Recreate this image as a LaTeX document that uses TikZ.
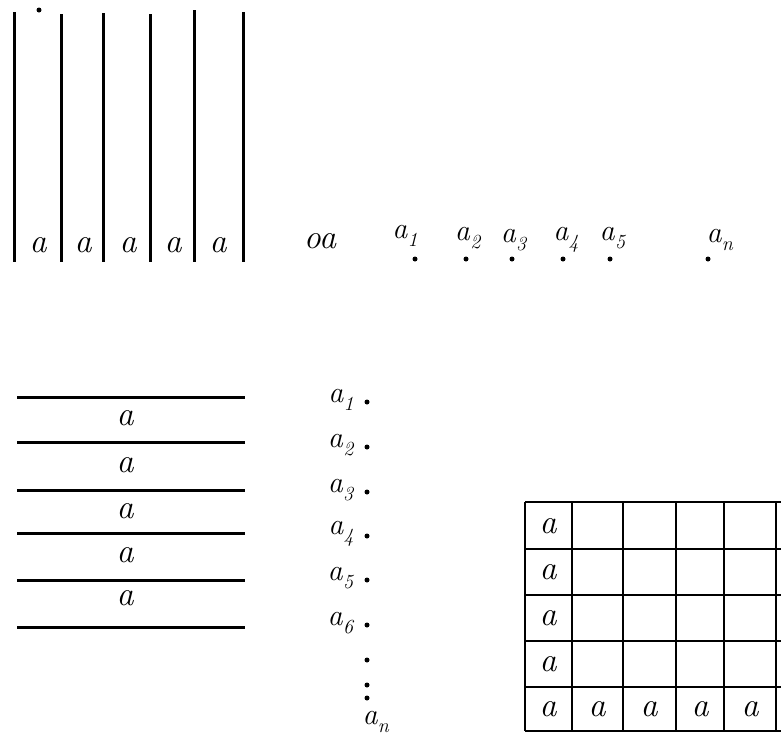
\documentclass[tikz,border=0pt]{standalone}
\newcommand\asub[1]{\textit{a}\raisebox{-0.28em}{\fontsize{20}{22}\selectfont\textit{#1}}}
\begin{document}
\begin{tikzpicture}[x=1pt,y=-1pt,
  ln/.style={line width=3pt},
  gl/.style={line width=2.6pt},
  lbl/.style={inner sep=0pt,font=\fontsize{34}{38}\selectfont\itshape},
  sub/.style={inner sep=0pt,font=\fontsize{30}{34}\selectfont},
  pt/.style={circle,fill=black,inner sep=0pt,minimum size=5pt}]
\useasboundingbox (0,0) rectangle (781,737);
% top vertical strips
\foreach \x/\t [count=\i] in {14/12,61/14,103/13,150/14,194/10,243/12}{
  \coordinate (vt\i) at (\x,\t);
  \coordinate (vb\i) at (\x,262);
  \draw[ln] (vt\i) -- (vb\i);
}
\node[pt] (topdot) at (39,10) {};
\foreach \x [count=\i] in {38,83,128,173,218}{
  \node[lbl] (va\i) at (\x,245) {a};
}
% row of points
\node[lbl] (oa) at (320,241) {oa};
\node[sub] (p1) at (405,236) {\asub{1}};
\node[sub] (p2) at (468,238) {\asub{2}};
\node[sub] (p3) at (514,240) {\asub{3}};
\node[sub] (p4) at (566,240) {\asub{4}};
\node[sub] (p5) at (613,238) {\asub{5}};
\node[sub] (pn) at (720,240) {\asub{n}};
\foreach \x/\n in {415/1,466/2,512/3,563/4,610/5,708/n}{
  \node[pt] (d\n) at (\x,259) {};
}
% horizontal strips
\foreach \y [count=\i] in {397,442,490,533,580,627}{
  \coordinate (hl\i) at (17,\y);
  \coordinate (hr\i) at (245,\y);
  \draw[ln] (hl\i) -- (hr\i);
}
\foreach \y [count=\i] in {418,465,511,555,598}{
  \node[lbl] (ha\i) at (125,\y) {a};
}
% list a_1 ... a_n
\foreach \y [count=\i] in {400,445,490,534,578,623}{
  \node[sub] (q\i) at (341,\y) {\asub{\i}};
  \node[pt] (qd\i) at (367,\y+2) {};
}
\node[pt] (e1) at (367,660) {};
\node[pt] (e2) at (367,685) {};
\node[pt] (e3) at (367,698) {};
\node[sub] (qn) at (376,722) {\asub{n}};
% grid
\foreach \x [count=\i] in {525,572,623,676,724,776}{
  \coordinate (gt\i) at (\x,502);
  \coordinate (gb\i) at (\x,731);
  \draw[gl] (gt\i) -- (gb\i);
}
\foreach \y [count=\i] in {502,549,595,641,687,731}{
  \coordinate (gl\i) at (525,\y);
  \coordinate (gr\i) at (781,\y);
  \draw[gl] (gl\i) -- (gr\i);
}
\foreach \y [count=\i] in {526,572,618,664}{
  \node[lbl] (ga\i) at (548,\y) {a};
}
\foreach \x [count=\i] in {548,597,649,700,750}{
  \node[lbl] (gba\i) at (\x,709) {a};
}
\end{tikzpicture}
\end{document}
